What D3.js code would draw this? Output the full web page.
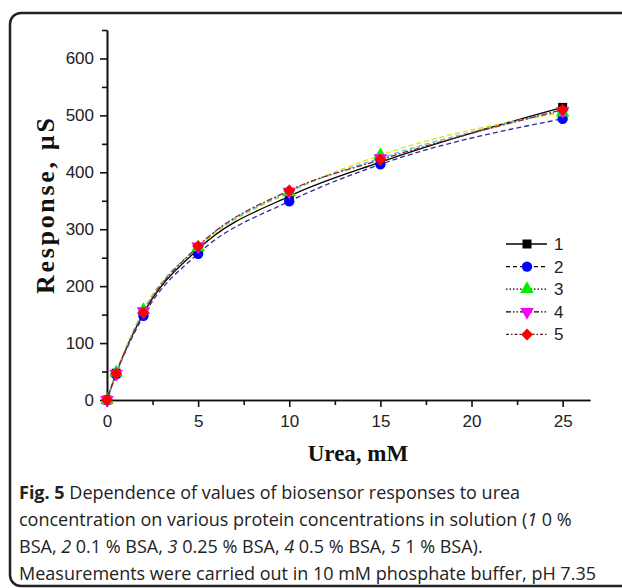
<!DOCTYPE html>
<html>
<head>
<meta charset="utf-8">
<script src="https://cdn.jsdelivr.net/npm/d3@7"></script>
<style>
  body { margin: 0; background: #fff; }
  svg { display: block; }
</style>
</head>
<body>
<div id="chart"></div>
<script>
// urea concentration, mM
const urea = [0, 0.5, 2, 5, 10, 15, 25];
// responses, uS, for each BSA concentration
const s1 = [0, 47, 152, 265, 358, 418, 514];
const s2 = [0, 45, 148, 257, 349, 414, 494];
const s3 = [0, 48, 158, 268, 365, 430, 505];
const s4 = [0, 46, 156, 270, 366, 425, 508];
const s5 = [0, 46, 153, 270, 368, 422, 510];
const seriesNames = ['1', '2', '3', '4', '5'];
const xTicks = [0, 5, 10, 15, 20, 25];
const yTicks = [0, 100, 200, 300, 400, 500, 600];
const captionLines = [
  'Dependence of values of biosensor responses to urea',
  'concentration on various protein concentrations in solution (',
  'BSA, ',
  'Measurements were carried out in 10 mM phosphate buffer, pH 7.35'
];

const width = 622, height = 588;
const margin = { top: 30, right: 32, bottom: 188, left: 107 };

const svg = d3.select('#chart').append('svg')
  .attr('width', width).attr('height', height);

// card frame
svg.append('rect')
  .attr('x', 10).attr('y', 13).attr('width', 660).attr('height', 573)
  .attr('rx', 11).attr('fill', 'none').attr('stroke', '#222').attr('stroke-width', 2.5);

const x = d3.scaleLinear().domain([0, 26.5]).range([margin.left, width - margin.right]);
const y = d3.scaleLinear().domain([0, 650]).range([height - margin.bottom, margin.top]);

const series = [
  { name: seriesNames[0], vals: s1, color: '#000', line: '#000', dash: null, legDash: null, marker: 'square' },
  { name: seriesNames[1], vals: s2, color: '#0000ff', line: '#2a2a9a', dash: '5,3', legDash: '4,3', marker: 'circle' },
  { name: seriesNames[2], vals: s3, color: '#00ee00', line: '#e8e000', dash: '5,3', legDash: '1.5,2', marker: 'triangle' },
  { name: seriesNames[3], vals: s4, color: '#ff00ff', line: '#33ccee', dash: '5,3', legDash: '5,2,1.5,2,1.5,2', marker: 'down' },
  { name: seriesNames[4], vals: s5, color: '#ff0000', line: '#992222', dash: '6,2,2,2', legDash: '3,2,1.5,2', marker: 'diamond' }
];

const symbolPath = (m) => {
  if (m === 'square') return d3.symbol(d3.symbolSquare, 81)();
  if (m === 'circle') return d3.symbol(d3.symbolCircle, 85)();
  if (m === 'triangle') return d3.symbol(d3.symbolTriangle, 80)();
  if (m === 'down') return d3.symbol(d3.symbolTriangle, 80)();
  return d3.symbol(d3.symbolSquare, 72)();
};
const rot = (m) => m === 'down' ? ' rotate(180)' : m === 'diamond' ? ' rotate(45)' : '';

// axes
const xAxis = svg.append('g')
  .attr('transform', `translate(0,${y(0)})`)
  .call(d3.axisBottom(x).tickValues(xTicks).tickSize(7).tickPadding(8).tickSizeOuter(0));
const xMinor = svg.append('g')
  .attr('transform', `translate(0,${y(0)})`)
  .call(d3.axisBottom(x).tickValues([2.5, 7.5, 12.5, 17.5, 22.5]).tickSize(5).tickFormat('').tickSizeOuter(0));
const yAxis = svg.append('g')
  .attr('transform', `translate(${x(0)},0)`)
  .call(d3.axisLeft(y).tickValues(yTicks).tickSize(7).tickPadding(6).tickSizeOuter(0));
const yMinor = svg.append('g')
  .attr('transform', `translate(${x(0)},0)`)
  .call(d3.axisLeft(y).tickValues([50, 150, 250, 350, 450, 550, 650]).tickSize(5).tickFormat('').tickSizeOuter(0));

[xAxis, xMinor, yAxis, yMinor].forEach(a => {
  a.attr('font-size', 17).attr('font-family', 'Liberation Sans, Arial, sans-serif');
  a.selectAll('path, line').attr('stroke', '#111').attr('stroke-width', 1.6);
  a.selectAll('text').attr('fill', '#222');
});

// curves
const line = d3.line().curve(d3.curveMonotoneX);
series.forEach(s => {
  svg.append('path')
    .attr('d', line(urea.map((u, i) => [x(u), y(s.vals[i])])))
    .attr('fill', 'none').attr('stroke', s.line).attr('stroke-width', 1.3)
    .attr('stroke-dasharray', s.dash);
});

// markers
series.forEach(s => {
  svg.append('g').selectAll('path').data(urea).enter().append('path')
    .attr('d', symbolPath(s.marker))
    .attr('transform', (u, i) => `translate(${x(u)},${y(s.vals[i])})` + rot(s.marker))
    .attr('fill', s.color);
});

// legend
const leg = svg.append('g').attr('transform', 'translate(506,244)');
series.forEach((s, i) => {
  const g = leg.append('g').attr('transform', `translate(0,${i * 22.6})`);
  g.append('line').attr('x1', 0).attr('x2', 41).attr('y1', 0).attr('y2', 0)
    .attr('stroke', i === 4 ? '#552222' : '#000').attr('stroke-width', 1.3)
    .attr('stroke-dasharray', s.legDash);
  g.append('path').attr('d', symbolPath(s.marker))
    .attr('transform', `translate(21,0)` + rot(s.marker))
    .attr('fill', s.color);
  g.append('text').attr('x', 48).attr('y', 6).text(s.name)
    .attr('font-family', 'Liberation Sans, Arial, sans-serif').attr('font-size', 17).attr('fill', '#222');
});

// axis titles
svg.append('text').attr('x', 358).attr('y', 461).attr('text-anchor', 'middle')
  .attr('font-family', 'Liberation Serif, Times New Roman, serif').attr('font-weight', 'bold')
  .attr('font-size', 23).attr('fill', '#111').text('Urea, mM');
svg.append('text').attr('transform', 'translate(54,206) rotate(-90)').attr('text-anchor', 'middle')
  .attr('font-family', 'Liberation Serif, Times New Roman, serif').attr('font-weight', 'bold')
  .attr('font-size', 26).attr('fill', '#111')
  .attr('textLength', 176).attr('lengthAdjust', 'spacing').text('Response, \u00b5S');

// caption
const cap = svg.append('g').attr('font-family', 'Open Sans, sans-serif').attr('font-size', 18).attr('fill', '#222');
const t1 = cap.append('text').attr('x', 19).attr('y', 499);
t1.append('tspan').attr('font-weight', 'bold').text('Fig. 5');
t1.append('tspan').text(' ' + captionLines[0]);
const t2 = cap.append('text').attr('x', 19).attr('y', 526);
t2.append('tspan').text(captionLines[1]);
t2.append('tspan').attr('font-style', 'italic').text('1');
t2.append('tspan').text(' 0 %');
const t3 = cap.append('text').attr('x', 19).attr('y', 553);
t3.append('tspan').text(captionLines[2]);
t3.append('tspan').attr('font-style', 'italic').text('2');
t3.append('tspan').text(' 0.1 % BSA, ');
t3.append('tspan').attr('font-style', 'italic').text('3');
t3.append('tspan').text(' 0.25 % BSA, ');
t3.append('tspan').attr('font-style', 'italic').text('4');
t3.append('tspan').text(' 0.5 % BSA, ');
t3.append('tspan').attr('font-style', 'italic').text('5');
t3.append('tspan').text(' 1 % BSA).');
cap.append('text').attr('x', 19).attr('y', 580).text(captionLines[3]);
</script>
</body>
</html>
